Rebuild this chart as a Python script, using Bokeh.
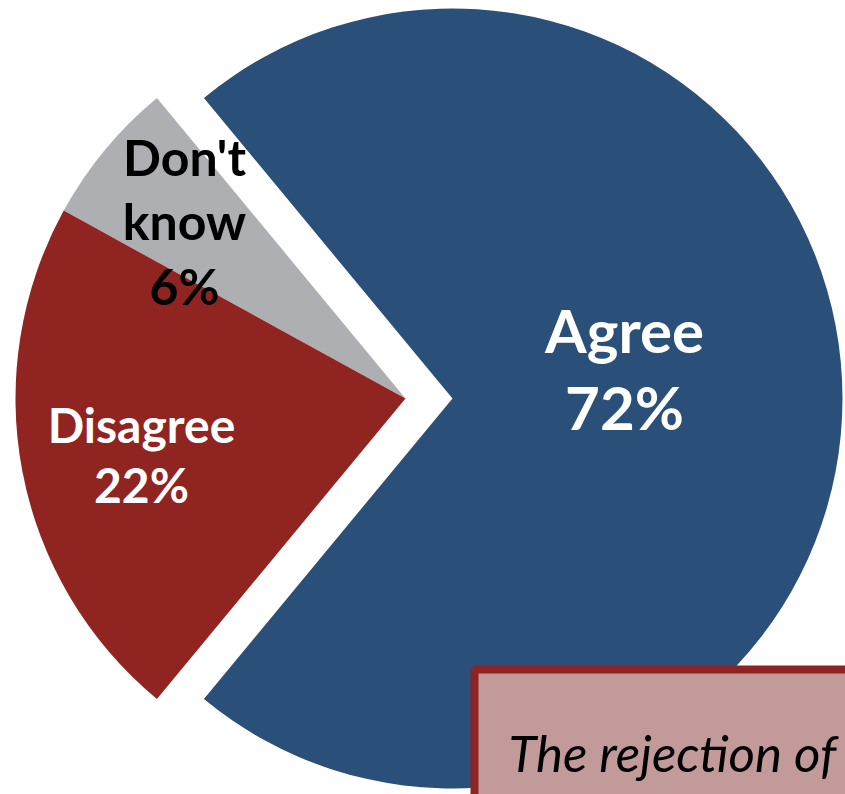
import math
from bokeh.plotting import figure
from bokeh.models import Range1d, ColumnDataSource
from bokeh.core.properties import value
from bokeh.embed import file_html
from bokeh.resources import INLINE

# ---- data ----
categories = ["Agree", "Don't know", "Disagree"]
values = [72, 6, 22]
label_names = ["Agree", "Don't\nknow", "Disagree"]
callout_text = ["The rejection of"]

# ---- style ----
W, H = 845, 794
colors = ["#2A4F78", "#AEAFB2", "#902421"]
text_colors = ["white", "black", "white"]
font_sizes = ["60px", "50px", "48px"]
cx, cy = 405, 396          # pie centre (data units = pixels, y up)
R = 390
explode = [47, 0, 0]       # horizontal offset of each slice
label_off = [(172, 30), (-221, 177), (-264, -56)]

total = sum(values)
# Agree centred on 0 rad, others follow counter-clockwise
start = -math.pi * values[0] / total
starts, ends, xs, ys, lx, ly, labels = [], [], [], [], [], [], []
a = start
for i, v in enumerate(values):
    span = 2 * math.pi * v / total
    starts.append(a)
    ends.append(a + span)
    xs.append(cx + explode[i])
    ys.append(cy)
    lx.append(cx + explode[i] + label_off[i][0])
    ly.append(cy + label_off[i][1])
    labels.append(f"{label_names[i]}\n{v}%")
    a += span

src = ColumnDataSource(dict(x=xs, y=ys, start=starts, end=ends, color=colors,
                            lx=lx, ly=ly, label=labels, tc=text_colors, fs=font_sizes))

p = figure(width=W, height=H, output_backend="svg", toolbar_location=None,
           x_range=Range1d(0, W), y_range=Range1d(0, H), min_border=0,
           outline_line_color=None, background_fill_color="white")
p.axis.visible = False
p.grid.visible = False

p.wedge(x="x", y="y", radius=R, start_angle="start", end_angle="end",
        fill_color="color", line_color=None, source=src)

p.text(x="lx", y="ly", text="label", text_color="tc", text_font_size="fs",
       text_font=value("Lato"), text_font_style="bold", text_align="center",
       text_baseline="middle", text_line_height=1.07, source=src)

# callout box (partially outside the frame)
p.quad(left=[474], right=[W + 60], top=[H - 669], bottom=[-60],
       fill_color="#C39A9A", line_color="#8E2321", line_width=8)
p.text(x=[508], y=[H - 752], text=callout_text, text_color="black",
       text_font=value("Lato"), text_font_style="italic", text_font_size="51px",
       text_align="left", text_baseline="middle")

open("out.html", "w").write(file_html(p, INLINE))
